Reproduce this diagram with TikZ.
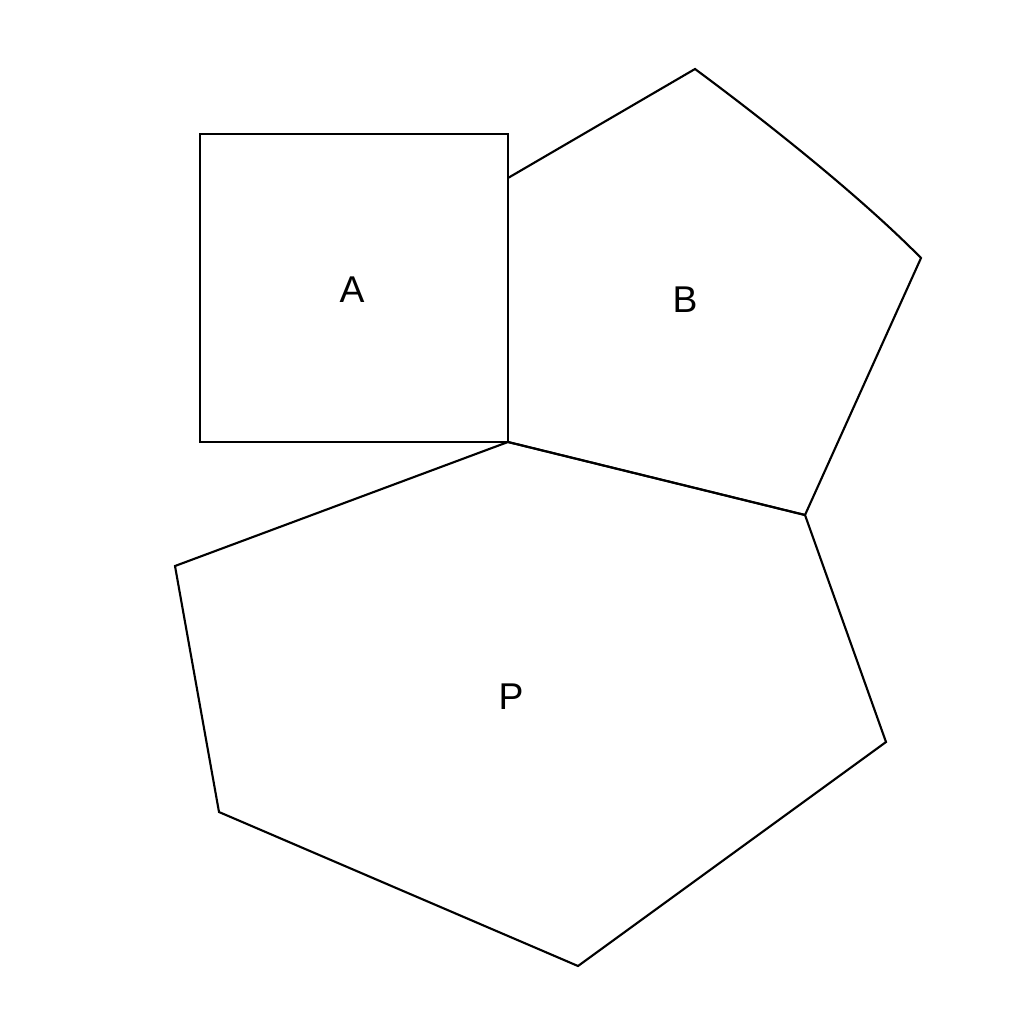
\documentclass[tikz,border=0pt]{standalone}
\usepackage{fontspec}
\setmainfont{Liberation Sans}
\begin{document}
\begin{tikzpicture}[x=0.01cm,y=-0.01cm,
  outline/.style={draw=black,line width=0.6pt,line join=miter},
  lbl/.style={font=\fontsize{10.6}{13}\selectfont,inner sep=0pt}]
\useasboundingbox (0,0) rectangle (1024,1024);
% square A
\coordinate (a1) at (200,134);
\coordinate (a2) at (508,134);
\coordinate (c) at (508,442);
\coordinate (a4) at (200,442);
\draw[outline] (a1) -- (a2) -- (c) -- (a4) -- cycle;
% pentagon B
\coordinate (b1) at (508,178);
\coordinate (b2) at (695,69);
\coordinate (b3) at (921,258);
\coordinate (b4) at (805,515);
\draw[outline] (b1) -- (b2) .. controls (764,120) and (860,196) .. (b3) -- (b4) -- (c);
% heptagon P
\coordinate (p3) at (886,742);
\coordinate (p4) at (578,966);
\coordinate (p5) at (219,812);
\coordinate (p6) at (175,566);
\draw[outline] (c) -- (b4) -- (p3) -- (p4) -- (p5) -- (p6) -- cycle;
\node[lbl] (A) at (352,290) {A};
\node[lbl] (B) at (685,300) {B};
\node[lbl] (P) at (511,697) {P};
\end{tikzpicture}
\end{document}
